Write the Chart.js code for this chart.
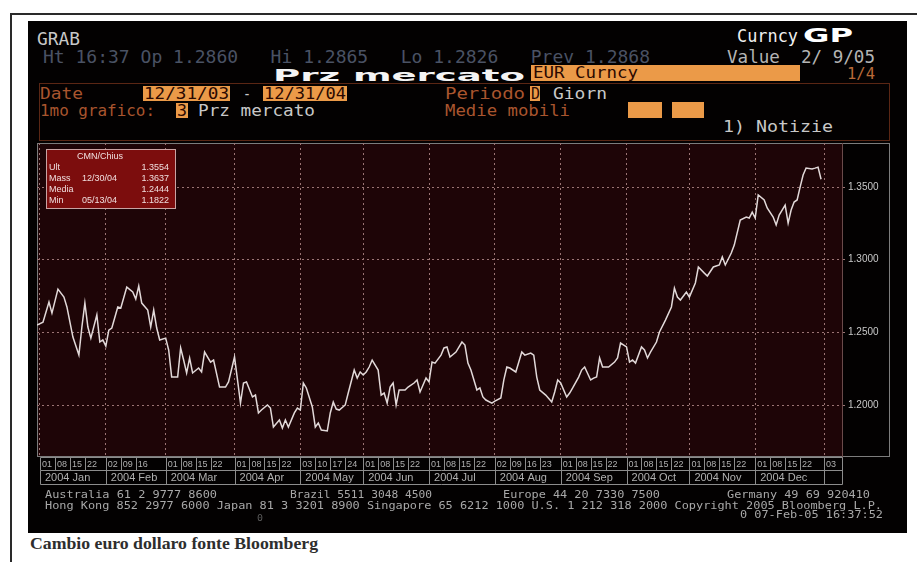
<!DOCTYPE html>
<html>
<head>
<meta charset="utf-8">
<script src="https://cdn.jsdelivr.net/npm/chart.js@4/dist/chart.umd.min.js"></script>
<style>
  body { margin: 0; width: 917px; height: 562px; background: #fff; position: relative; overflow: hidden; }
  .abs { position: absolute; }
  .t { position: absolute; white-space: pre; line-height: 1; transform-origin: 0 0; }
  #page { left: 10px; top: 13px; width: 915px; height: 560px; border-left: 2px solid #2a2a2a; border-top: 2px solid #2a2a2a; }
  #screen { left: 28px; top: 21px; width: 879px; height: 512px; background: #030101; }
  #form { left: 39px; top: 83px; width: 849px; height: 56px; border: 1px solid #5a2614; }
  .box { position: absolute; background: #eb9a48; }
  #chart { position: absolute; left: 30px; top: 136px; }
</style>
</head>
<body>
<div id="page" class="abs"></div>
<div id="screen" class="abs"></div>
<div id="form" class="abs"></div>
<canvas id="chart" width="870" height="355"></canvas>
<script>
// trading-day index (0 = 12/31/03) and EUR/USD close
const days = [0,2,4,5,7,9,10,12,14,15,16,17,18,20,21,22,23,24,25,27,28,30,32,33,34,35,37,38,39,40,41,43,44,45,47,48,49,50,51,52,54,55,56,58,59,61,63,64,66,67,68,69,70,72,73,74,75,77,78,79,81,82,83,84,86,87,88,89,90,92,93,94,95,97,98,99,100,101,103,104,106,107,108,109,110,111,112,114,115,116,117,118,119,120,121,123,124,126,127,128,130,131,132,133,135,136,137,138,140,142,143,144,145,147,148,149,150,152,153,155,156,157,158,160,161,162,163,165,166,167,168,170,172,173,174,175,177,178,179,181,182,183,185,186,187,188,189,191,193,194,195,197,198,199,200,202,203,204,205,207,208,210,212,213,214,215,217,218,220,221,223,224,226,228,229,230,232,233,235,237,238,239,240,241,243,244,246,247,248,249,250,251,252,253,254,255,256,257,259,260,261,262];
const rates = [1.2551,1.2571,1.2709,1.2633,1.2798,1.2743,1.2675,1.2468,1.2344,1.2537,1.2702,1.2537,1.2461,1.2620,1.2434,1.2448,1.2406,1.2516,1.2530,1.2675,1.2668,1.2812,1.2778,1.2730,1.2819,1.2702,1.2654,1.2537,1.2654,1.2530,1.2448,1.2461,1.2379,1.2193,1.2193,1.2393,1.2310,1.2221,1.2324,1.2221,1.2255,1.2228,1.2365,1.2296,1.2310,1.2124,1.2124,1.2159,1.2331,1.2173,1.2014,1.2152,1.2159,1.2056,1.2069,1.1946,1.1966,1.2001,1.1980,1.1849,1.1897,1.1842,1.1897,1.1849,1.1946,1.1980,1.1966,1.2152,1.2118,1.1987,1.1849,1.1877,1.1829,1.1822,1.1946,1.2021,1.1973,1.1966,1.2001,1.2083,1.2241,1.2186,1.2228,1.2207,1.2228,1.2262,1.2310,1.2241,1.2069,1.2083,1.2014,1.2124,1.2152,1.2001,1.2104,1.2104,1.2124,1.2152,1.2173,1.2090,1.2186,1.2159,1.2296,1.2289,1.2344,1.2393,1.2400,1.2331,1.2365,1.2434,1.2413,1.2289,1.2241,1.2104,1.2118,1.2056,1.2035,1.2014,1.2028,1.2049,1.2173,1.2262,1.2255,1.2228,1.2296,1.2365,1.2344,1.2358,1.2344,1.2193,1.2104,1.2069,1.2021,1.2090,1.2173,1.2152,1.2056,1.2083,1.2118,1.2193,1.2241,1.2262,1.2173,1.2186,1.2193,1.2324,1.2262,1.2262,1.2296,1.2324,1.2427,1.2400,1.2296,1.2310,1.2289,1.2400,1.2379,1.2324,1.2365,1.2434,1.2503,1.2585,1.2675,1.2805,1.2743,1.2723,1.2778,1.2743,1.2840,1.2950,1.2908,1.2888,1.2950,1.2964,1.3019,1.2964,1.3046,1.3101,1.3273,1.3294,1.3287,1.3328,1.3287,1.3445,1.3411,1.3356,1.3294,1.3239,1.3307,1.3342,1.3376,1.3252,1.3342,1.3397,1.3411,1.3500,1.3583,1.3631,1.3624,1.3630,1.3637,1.3554];

const yTicks = [1.20, 1.25, 1.30, 1.35];
const monthStarts = [1, 23, 43, 66, 88, 109, 131, 153, 175, 197, 218, 240, 263];
const monthLabels = ['2004 Jan','2004 Feb','2004 Mar','2004 Apr','2004 May','2004 Jun','2004 Jul','2004 Aug','2004 Sep','2004 Oct','2004 Nov','2004 Dec',''];
const weekDays = [1,6,11,16, 23,28,33, 43,48,53,58, 66,71,76,81, 88,93,98,103, 109,114,119,124, 131,136,141,146, 153,158,163,168, 175,180,185,190, 197,202,207,212, 218,223,228,233, 240,245,250,255, 263];
const weekLabels = ['01','08','15','22', '02','09','16', '01','08','15','22', '01','08','15','22', '03','10','17','24', '01','08','15','22', '01','08','15','22', '02','09','16','23', '01','08','15','22', '01','08','15','22', '01','08','15','22', '01','08','15','22', '03'];

const statTitle = 'CMN/Chius';
const statLabels = ['Ult', 'Mass', 'Media', 'Min'];
const statDates = ['', '12/30/04', '', '05/13/04'];
const statValues = ['1.3554', '1.3637', '1.2444', '1.1822'];

// ---- terminal text around the chart ----
const mono = '"DejaVu Sans Mono", monospace';
const sans = '"DejaVu Sans", sans-serif';
const serif = '"Liberation Serif", serif';
const dim = '#4a5264', brown = '#a9552e', light = '#c8c8c8', ink = '#2a0800', foot = '#a8a8a8';

const orangeBoxes = [
  [531, 65, 269, 16], [143, 86, 87, 15], [263, 86, 84, 15], [530, 86, 10, 15],
  [176, 103, 12, 15], [628, 102, 34, 16], [672, 102, 32, 16]
];

// text, left, baseline, size, colour, width, weight, family
const texts = [
  ['GRAB', 37, 45, 17, light, 43],
  ['Ht 16:37 Op 1.2860   Hi 1.2865   Lo 1.2826   Prev 1.2868', 43, 63, 17, dim, 607],
  ['Curncy', 737, 42, 17, '#f0f0f0', 61],
  ['GP', 803, 42, 19, '#ffffff', 50, 'bold', sans],
  ['Value  2/ 9/05', 727, 63, 17, '#b4b4b4', 148],
  ['Prz mercato', 273, 82, 16, '#f4f4f4', 252, '600', sans],
  ['EUR Curncy', 533, 79, 16, ink, 105],
  ['1/4', 847, 80, 16, '#b86a38', 28],
  ['Date', 40, 100, 16, brown, 43],
  ['12/31/03', 144, 100, 16, ink, 85],
  ['-', 243, 100, 16, light, 8],
  ['12/31/04', 264, 100, 16, ink, 82],
  ['Periodo', 445, 100, 16, brown, 80],
  ['D', 531, 100, 16, ink, 9],
  ['Giorn', 553, 100, 16, light, 54],
  ['1mo grafico:', 40, 117, 16, brown, 115],
  ['3', 177, 117, 16, ink, 10],
  ['Prz mercato', 198, 117, 16, light, 117],
  ['Medie mobili', 445, 117, 16, brown, 125],
  ['1) Notizie', 723, 133, 16, light, 110],
  ['Australia 61 2 9777 8600', 45, 498, 10, foot, 172],
  ['Brazil 5511 3048 4500', 290, 498, 10, foot, 142],
  ['Europe 44 20 7330 7500', 503, 498, 10, foot, 157],
  ['Germany 49 69 920410', 727, 498, 10, foot, 143],
  ['Hong Kong 852 2977 6000 Japan 81 3 3201 8900 Singapore 65 6212 1000 U.S. 1 212 318 2000 Copyright 2005 Bloomberg L.P.', 45, 509, 10, foot, 837],
  ['0 07-Feb-05 16:37:52', 740, 518, 10, foot, 143],
  ['0', 257, 522, 9, '#5a5a5a', 6],
  ['Cambio euro dollaro fonte Bloomberg', 30, 550, 16, '#2e2e2e', 288, 'bold', serif]
];

orangeBoxes.forEach(([x, y, w, h]) => {
  const d = document.createElement('div');
  d.className = 'box';
  Object.assign(d.style, { left: x + 'px', top: y + 'px', width: w + 'px', height: h + 'px' });
  document.body.appendChild(d);
});

texts.forEach(([txt, x, base, size, color, w, weight, family]) => {
  const s = document.createElement('div');
  s.className = 't';
  s.textContent = txt;
  Object.assign(s.style, {
    left: x + 'px', top: (base - 0.846 * size) + 'px', fontSize: size + 'px',
    color: color, fontWeight: weight || 'normal', fontFamily: family || mono
  });
  document.body.appendChild(s);
  const nat = s.getBoundingClientRect().width;
  s.style.transform = 'scaleX(' + (w / nat) + ')';
});

// ---- chart ----
Chart.defaults.font.family = '"Liberation Sans", sans-serif';

const plotBack = {
  id: 'plotBack',
  beforeDraw(chart) {
    const { ctx, chartArea: a } = chart;
    ctx.save();
    ctx.fillStyle = '#1e0507';
    ctx.fillRect(a.left, a.top, a.right - a.left, a.bottom - a.top);
    ctx.strokeStyle = '#7c7c7c';
    ctx.lineWidth = 1;
    ctx.strokeRect(a.left + 0.5, a.top + 0.5, a.right - a.left + 47, a.bottom - a.top - 1);
    ctx.restore();
  }
};

const dateStrip = {
  id: 'dateStrip',
  afterDraw(chart) {
    const { ctx, chartArea: a, scales: { x } } = chart;
    const top = a.bottom + 0.5, mid = top + 13, bot = top + 27;
    const x0 = Math.round(x.getPixelForValue(monthStarts[0])) + 0.5;
    const x1 = Math.round(x.getPixelForValue(x.max)) + 0.5;
    ctx.save();
    ctx.strokeStyle = '#8c8c8c';
    ctx.lineWidth = 1;
    ctx.beginPath();
    [top, mid, bot].forEach(y => { ctx.moveTo(x0, y); ctx.lineTo(x1, y); });
    ctx.moveTo(x1, top); ctx.lineTo(x1, bot);
    weekDays.forEach(d => {
      const px = Math.round(x.getPixelForValue(d)) + 0.5;
      ctx.moveTo(px, top); ctx.lineTo(px, mid);
    });
    monthStarts.forEach(d => {
      const px = Math.round(x.getPixelForValue(d)) + 0.5;
      ctx.moveTo(px, mid); ctx.lineTo(px, bot);
    });
    ctx.stroke();
    ctx.fillStyle = '#b0b0b0';
    ctx.textBaseline = 'middle';
    ctx.font = '9px "Liberation Sans"';
    weekDays.forEach((d, i) => ctx.fillText(weekLabels[i], x.getPixelForValue(d) + 2, top + 7));
    ctx.font = '11px "Liberation Sans"';
    monthStarts.forEach((d, i) => ctx.fillText(monthLabels[i], x.getPixelForValue(d) + 5, mid + 7.5));
    ctx.restore();
  }
};

const statBox = {
  id: 'statBox',
  afterDatasetsDraw(chart) {
    const { ctx, chartArea: a } = chart;
    const bx = a.left + 9, by = a.top + 6, bw = 130, bh = 60;
    ctx.save();
    ctx.fillStyle = '#7c0d0d';
    ctx.fillRect(bx, by, bw, bh);
    ctx.strokeStyle = '#c9a3a3';
    ctx.lineWidth = 1;
    ctx.strokeRect(bx + 0.5, by + 0.5, bw - 1, bh - 1);
    ctx.fillStyle = '#f0dede';
    ctx.font = '9px "Liberation Sans"';
    ctx.textBaseline = 'middle';
    ctx.textAlign = 'center';
    ctx.fillText(statTitle, bx + 54, by + 8);
    statLabels.forEach((lab, i) => {
      const yy = by + 19 + i * 11;
      ctx.textAlign = 'left';
      ctx.fillText(lab, bx + 3, yy);
      ctx.fillText(statDates[i], bx + 36, yy);
      ctx.textAlign = 'right';
      ctx.fillText(statValues[i], bx + 123, yy);
    });
    ctx.restore();
  }
};

new Chart(document.getElementById('chart'), {
  type: 'line',
  data: {
    datasets: [{
      data: days.map((d, i) => ({ x: d, y: rates[i] })),
      borderColor: '#e2d9d9',
      borderWidth: 1.5,
      pointRadius: 0,
      tension: 0
    }]
  },
  options: {
    responsive: false,
    animation: false,
    layout: { padding: { left: 7, top: 7, right: 11, bottom: 7 } },
    plugins: { legend: { display: false }, tooltip: { enabled: false } },
    scales: {
      x: {
        type: 'linear', min: 0, max: 269,
        afterBuildTicks: s => { s.ticks = monthStarts.map(v => ({ value: v })); },
        afterFit: s => { s.height = 27; },
        ticks: { display: false },
        grid: { color: '#9b7474', drawTicks: false },
        border: { display: false, dash: [2, 3] }
      },
      y: {
        position: 'right', min: 1.1643, max: 1.3803,
        afterBuildTicks: s => { s.ticks = yTicks.map(v => ({ value: v })); },
        afterFit: s => { s.width = 47; },
        ticks: { color: '#c8c8c8', font: { size: 10 }, padding: 1, callback: v => v.toFixed(4) },
        grid: { color: '#9b7474', tickLength: 5, tickColor: '#9b7474', tickBorderDash: [2, 2] },
        border: { display: true, color: '#6a4a4a', dash: [2, 3] }
      }
    }
  },
  plugins: [plotBack, dateStrip, statBox]
});
</script>
</body>
</html>
